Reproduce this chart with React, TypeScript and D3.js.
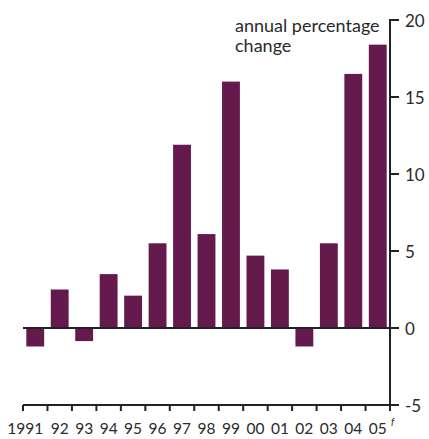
import React from 'react';
import * as d3 from 'd3';

const years = ['1991', '92', '93', '94', '95', '96', '97', '98', '99', '00', '01', '02', '03', '04', '05'];
const values = [-1.2, 2.5, -0.85, 3.5, 2.1, 5.5, 11.9, 6.1, 16.0, 4.7, 3.8, -1.2, 5.5, 16.5, 18.4];
const yTicks = [-5, 0, 5, 10, 15, 20];

const W = 429;
const H = 439;
const left = 23;
const right = 390;
const top = 20;
const bottom = 405;
const barColor = '#651a4d';
const font = 'Lato, "Open Sans", sans-serif';
const textColor = '#2a2a2a';

const App = () => {
    const x = d3.scaleBand()
        .domain(years)
        .range([left, right])
        .paddingInner(0.27)
        .paddingOuter(0.135);

    const y = d3.scaleLinear()
        .domain([-5, 20])
        .range([bottom, top]);

    const step = x.step();
    // tick marks sit on the band boundaries
    const bandEdges = d3.range(years.length + 1).map(i => left + i * step);

    return (
        <svg width={W} height={H} style={{position: 'absolute', left: 0, top: 0}}>
            <rect width={W} height={H} fill="white" />

            {values.map((v, i) => (
                <rect
                    key={years[i]}
                    x={x(years[i])}
                    y={y(Math.max(0, v))}
                    width={x.bandwidth()}
                    height={Math.abs(y(v) - y(0))}
                    fill={barColor}
                />
            ))}

            {/* zero line */}
            <line x1={left} x2={right} y1={y(0)} y2={y(0)} stroke="#222" strokeWidth={2} />

            {/* bottom axis */}
            <line x1={left} x2={right + 1} y1={y(-5)} y2={y(-5)} stroke="#222" strokeWidth={2} />
            {bandEdges.map((bx, i) => (
                <line key={i} x1={bx} x2={bx} y1={y(-5)} y2={y(-5) + 6} stroke="#222" strokeWidth={2} />
            ))}
            {years.map((yr, i) => (
                <text
                    key={yr}
                    x={(x(yr) as number) + x.bandwidth() / 2 - (i === 0 ? 10 : 0)}
                    y={433.5}
                    textAnchor="middle"
                    fontFamily={font}
                    fontSize={15.5}
                    fill={textColor}
                >{yr}</text>
            ))}
            <text x={right + 1} y={425} fontFamily={font} fontSize={10} fontStyle="italic" fill={textColor}>f</text>

            {/* right axis */}
            <line x1={right} x2={right} y1={y(20) - 1} y2={y(-5) + 6} stroke="#222" strokeWidth={2} />
            {yTicks.map(t => (
                <g key={t}>
                    <line x1={right} x2={right + 9} y1={y(t)} y2={y(t)} stroke="#222" strokeWidth={2} />
                    <text
                        x={right + 15}
                        y={y(t)}
                        dy="0.4em"
                        fontFamily={font}
                        fontSize={17}
                        fill={textColor}
                    >{t}</text>
                </g>
            ))}

            <text x={235} y={31.5} fontFamily={font} fontSize={18} fill={textColor}>annual percentage</text>
            <text x={235} y={51.5} fontFamily={font} fontSize={18} fill={textColor}>change</text>
        </svg>
    );
};

export default App;
